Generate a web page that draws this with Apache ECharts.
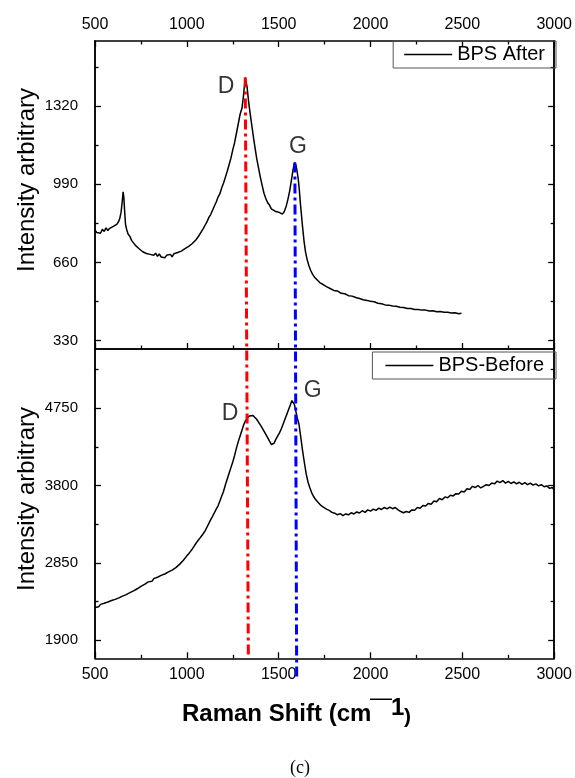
<!DOCTYPE html>
<html><head><meta charset="utf-8">
<script src="https://cdn.jsdelivr.net/npm/echarts@6/dist/echarts.min.js"></script>
<style>html,body{margin:0;padding:0;background:#fff}#c{width:575px;height:778px}</style>
</head><body><div id="c"></div>
<script>
// ---------- data ----------
const xRange = [500, 3000];
const xTickStep = 500;
const afterRange = [295, 1594];
const afterTicks = [330, 660, 990, 1320];
const afterMinor = [495, 825, 1155, 1485];
const beforeRange = [1675, 5479];
const beforeTicks = [1900, 2850, 3800, 4750];
const beforeMinor = [2375, 3325, 4275, 5225];

const afterShift = [500,510,520,530,540,550,560,570,580,590,600,610,620,628,635,642,648,653,657,661,666,672,680,690,700,710,720,730,740,750,760,770,780,790,800,810,820,830,840,850,860,870,880,890,900,910,920,930,940,950,960,970,980,990,1000,1010,1020,1030,1040,1050,1060,1070,1080,1090,1100,1110,1120,1130,1140,1150,1160,1170,1180,1190,1200,1210,1220,1230,1240,1250,1260,1270,1280,1290,1300,1308,1314,1318,1322,1328,1334,1340,1348,1356,1364,1372,1380,1390,1400,1410,1420,1430,1440,1450,1460,1470,1480,1490,1500,1510,1520,1530,1540,1550,1560,1570,1578,1584,1588,1594,1600,1606,1612,1618,1624,1630,1638,1646,1655,1665,1675,1685,1695,1710,1725,1740,1760,1780,1800,1820,1840,1860,1880,1900,1920,1940,1960,1980,2000,2020,2040,2060,2080,2100,2120,2140,2160,2180,2200,2220,2240,2260,2280,2300,2320,2340,2360,2380,2400,2420,2440,2460,2480,2495];
const afterIntensity = [797,786,794,783,800,791,806,795,804,798,812,806,822,832,846,872,915,958,935,880,822,800,780,770,752,748,732,738,718,722,705,712,698,706,694,702,690,699,686,696,683,691,680,690,685,694,684,697,690,702,695,708,704,718,714,728,726,740,744,756,762,778,786,804,818,832,850,862,880,898,915,936,950,975,995,1020,1045,1072,1100,1135,1165,1205,1245,1285,1310,1360,1410,1440,1432,1400,1355,1315,1270,1225,1180,1140,1100,1060,1020,985,952,930,912,902,886,892,876,884,872,878,864,874,895,925,962,1010,1050,1072,1082,1070,1045,1015,970,910,860,810,750,705,672,645,625,610,598,586,574,568,558,550,542,540,530,528,520,518,512,508,503,500,496,494,488,486,481,480,476,475,471,470,466,466,462,462,459,459,455,456,452,453,450,450,447,448,444,446];

const beforeShift = [500,510,520,530,540,550,560,570,580,590,600,610,620,630,640,650,660,670,680,690,700,710,720,730,740,750,760,770,780,790,800,810,820,830,840,850,860,870,880,890,900,910,920,930,940,950,960,970,980,990,1000,1010,1020,1030,1040,1050,1060,1070,1080,1090,1100,1110,1120,1130,1140,1150,1160,1170,1180,1190,1200,1210,1220,1230,1240,1250,1260,1270,1280,1290,1300,1310,1320,1330,1340,1350,1360,1370,1380,1390,1400,1410,1420,1430,1440,1450,1460,1467,1475,1485,1495,1505,1515,1525,1535,1545,1555,1565,1572,1578,1585,1592,1600,1610,1620,1630,1640,1650,1660,1670,1680,1690,1700,1715,1730,1745,1760,1775,1790,1805,1820,1835,1850,1865,1880,1895,1910,1925,1940,1955,1970,1985,2000,2015,2030,2045,2060,2075,2090,2105,2120,2135,2150,2165,2180,2195,2210,2225,2240,2255,2270,2285,2300,2315,2330,2345,2360,2375,2390,2405,2420,2435,2450,2465,2480,2495,2510,2525,2540,2555,2570,2585,2600,2615,2630,2645,2660,2675,2690,2705,2720,2735,2750,2765,2780,2795,2810,2825,2840,2855,2870,2885,2900,2915,2930,2945,2960,2975,2990,3000];
const beforeIntensity = [2300,2322,2310,2338,2325,2352,2340,2368,2355,2385,2372,2400,2390,2418,2410,2440,2428,2458,2450,2482,2472,2505,2498,2530,2522,2560,2552,2585,2578,2615,2630,2622,2655,2648,2672,2665,2695,2690,2712,2708,2738,2735,2760,2768,2790,2805,2830,2850,2878,2900,2935,2960,2990,3020,3055,3090,3120,3150,3180,3210,3245,3290,3335,3380,3420,3465,3510,3550,3610,3670,3730,3810,3880,3950,4020,4090,4170,4260,4340,4410,4480,4550,4600,4630,4655,4670,4662,4640,4615,4580,4545,4510,4470,4430,4390,4345,4305,4285,4320,4370,4410,4450,4500,4560,4620,4680,4740,4800,4845,4855,4800,4730,4640,4560,4400,4230,4080,3940,3840,3770,3710,3665,3630,3590,3555,3530,3510,3495,3470,3460,3440,3455,3430,3450,3440,3465,3450,3475,3462,3490,3470,3500,3485,3510,3495,3522,3505,3530,3512,3535,3515,3530,3500,3480,3465,3480,3470,3500,3495,3530,3520,3555,3548,3580,3570,3610,3600,3640,3625,3660,3650,3680,3672,3700,3695,3730,3720,3760,3750,3790,3775,3800,3770,3790,3810,3800,3830,3820,3855,3835,3860,3830,3850,3825,3845,3820,3840,3815,3835,3810,3830,3805,3820,3795,3810,3785,3795,3765,3775,3745];

const peakNames = ['D', 'G'];
const afterPeakLabelAt = [[1213, 1401], [1605, 1148]];
const beforePeakLabelAt = [[1235, 4680], [1685, 4965]];
// guide lines: start on the "after" panel, end on the "before" panel
const dGuide = {from: [1318, 1440], to: [1335, 1675]};
const gGuide = {from: [1588, 1082], to: [1598, 1446]};

// ---------- chart ----------
const chart = echarts.init(document.getElementById('c'), null, {renderer: 'canvas'});
const BLACK = '#000';
const FONT = '"Liberation Sans",Arial,sans-serif';
const L = 95, W = 462;
const plain = v => String(v);

function xAx(grid, pos, labels, ticks) {
  return {
    type: 'value', gridIndex: grid, position: pos, min: xRange[0], max: xRange[1], interval: xTickStep,
    axisLine: {show: true, onZero: false, lineStyle: {color: BLACK, width: 1.5}},
    axisTick: {show: ticks, inside: true, length: 6, lineStyle: {color: BLACK, width: 1.3}},
    minorTick: {show: ticks, splitNumber: 2, length: 3.5, lineStyle: {color: BLACK, width: 1.3}},
    axisLabel: {show: labels, margin: 8, color: BLACK, fontSize: 16, fontFamily: FONT, formatter: plain},
    splitLine: {show: false}, minorSplitLine: {show: false}
  };
}
function yAx(grid, pos, range, vals, labels, len) {
  return {
    type: 'value', gridIndex: grid, position: pos, min: range[0], max: range[1], offset: 0,
    axisLine: {show: true, onZero: false, lineStyle: {color: BLACK, width: 1.5}},
    axisTick: {show: true, inside: true, length: len, customValues: vals, lineStyle: {color: BLACK, width: 1.3}},
    axisLabel: {show: labels, customValues: vals, margin: 17, color: BLACK, fontSize: 15, fontFamily: FONT, formatter: plain},
    splitLine: {show: false}
  };
}
function labelSeries(xi, yi, pts) {
  return {
    type: 'scatter', xAxisIndex: xi, yAxisIndex: yi, symbolSize: 1, silent: true,
    itemStyle: {color: 'rgba(0,0,0,0)'},
    label: {show: true, position: 'inside', formatter: '{b}', color: BLACK, fontSize: 23, fontFamily: FONT},
    data: pts.map((p, i) => ({name: peakNames[i], value: p}))
  };
}
function legendAt(name, top, pad) {
  return {data: [{name: name, icon: 'rect'}], right: 19, top: top, borderColor: '#555', borderWidth: 1, borderRadius: 0,
    padding: pad, itemWidth: 48, itemHeight: 1.3, selectedMode: false,
    itemStyle: {color: BLACK, borderWidth: 0},
    textStyle: {fontSize: 20, color: BLACK, fontFamily: FONT, lineHeight: 21}};
}

const option = {
  animation: false,
  backgroundColor: '#fff',
  grid: [
    {left: L, top: 41, width: W, height: 308},
    {left: L, top: 349, width: W, height: 309.3}
  ],
  xAxis: [
    xAx(0, 'top', true, true),
    xAx(0, 'bottom', false, true),
    xAx(1, 'bottom', true, true),
    xAx(1, 'top', false, false)
  ],
  yAxis: [
    yAx(0, 'left', afterRange, afterTicks, true, 6),
    yAx(0, 'left', afterRange, afterMinor, false, 3.5),
    yAx(0, 'right', afterRange, afterTicks, false, 6),
    yAx(0, 'right', afterRange, afterMinor, false, 3.5),
    yAx(1, 'left', beforeRange, beforeTicks, true, 6),
    yAx(1, 'left', beforeRange, beforeMinor, false, 3.5),
    yAx(1, 'right', beforeRange, beforeTicks, false, 6),
    yAx(1, 'right', beforeRange, beforeMinor, false, 3.5)
  ],
  legend: [
    legendAt('BPS After', 41, [3, 11, 3, 11]),
    legendAt('BPS-Before', 352, [3, 12, 3, 13])
  ],
  series: [
    {name: 'BPS After', type: 'line', xAxisIndex: 0, yAxisIndex: 0, symbol: 'none', silent: true,
     lineStyle: {color: BLACK, width: 1.5}, itemStyle: {color: BLACK},
     data: afterShift.map((x, i) => [x, afterIntensity[i]])},
    {name: 'BPS-Before', type: 'line', xAxisIndex: 2, yAxisIndex: 4, symbol: 'none', silent: true,
     lineStyle: {color: BLACK, width: 1.5}, itemStyle: {color: BLACK},
     data: beforeShift.map((x, i) => [x, beforeIntensity[i]])},
    labelSeries(0, 0, afterPeakLabelAt),
    labelSeries(2, 4, beforePeakLabelAt)
  ]
};
chart.setOption(option);

function toPx(xi, yi, p) { return chart.convertToPixel({xAxisIndex: xi, yAxisIndex: yi}, p); }
function guide(g, color) {
  const a = toPx(0, 0, g.from), b = toPx(2, 4, g.to);
  return {type: 'line', z: 100, silent: true,
    shape: {x1: a[0], y1: a[1], x2: b[0], y2: b[1]},
    style: {stroke: color, lineWidth: 3, lineDash: [10, 4, 3, 4]}};
}
function txt(x, y, text, font) {
  return {type: 'text', x: x, y: y, silent: true, z: 50,
    style: {text: text, font: font, fill: BLACK, align: 'left', verticalAlign: 'middle'}};
}
const titleFont = '24px "Liberation Sans",Arial,sans-serif';
const boldFont = 'bold 24px "Liberation Sans",Arial,sans-serif';
chart.setOption({
  graphic: [
    guide(dGuide, '#ff0000'),
    guide(gGuide, '#0000ff'),
    {type: 'text', x: 27, y: 180, rotation: Math.PI / 2, silent: true,
     style: {text: 'Intensity arbitrary', font: titleFont, fill: BLACK, align: 'center', verticalAlign: 'middle'}},
    {type: 'text', x: 27, y: 499, rotation: Math.PI / 2, silent: true,
     style: {text: 'Intensity arbitrary', font: titleFont, fill: BLACK, align: 'center', verticalAlign: 'middle'}},
    txt(182, 714, 'Raman Shift (cm', boldFont),
    txt(370, 699, '\u2014', '22px "Liberation Sans",Arial,sans-serif'),
    txt(391, 708, '1', boldFont),
    txt(404, 717, ')', 'bold 21px "Liberation Sans",Arial,sans-serif'),
    {type: 'text', x: 300, y: 768, silent: true,
     style: {text: '(c)', font: '18px "Liberation Serif","DejaVu Serif",serif', fill: BLACK, align: 'center', verticalAlign: 'middle'}}
  ]
});
</script>
</body></html>
